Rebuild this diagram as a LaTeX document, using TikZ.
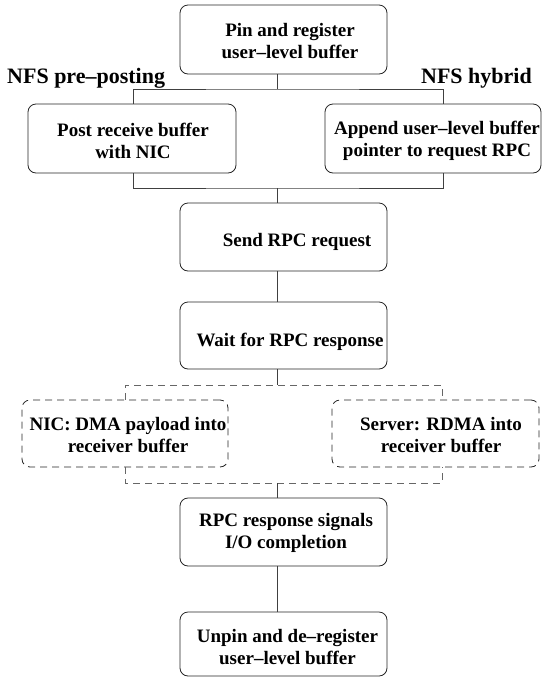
\documentclass[tikz,border=0pt]{standalone}
\usepackage{fontspec}
\setmainfont{Liberation Serif}
\begin{document}
\begin{tikzpicture}[x=1pt,y=-1pt,
  box/.style={draw=black!85,line width=0.8pt,rounded corners=8pt,rectangle,inner sep=0pt},
  dbox/.style={box,dash pattern=on 7pt off 5pt},
  txt/.style={align=center,inner sep=0pt,font=\fontsize{19}{22}\selectfont\bfseries},
  lab/.style={inner sep=0pt,font=\fontsize{22}{24}\selectfont\bfseries},
  conn/.style={draw=black!75,line width=0.8pt},
  dconn/.style={draw=black!60,line width=0.8pt,dash pattern=on 7pt off 5pt}]
\useasboundingbox (0,0) rectangle (543,678);
% boxes
\node[box,minimum width=207pt,minimum height=69pt] (top) at (283.5,39.5) {};
\node[box,minimum width=208pt,minimum height=69pt] (left) at (132,138.5) {};
\node[box,minimum width=216pt,minimum height=69pt] (right) at (433,138.5) {};
\node[box,minimum width=207pt,minimum height=68pt] (send) at (283.5,237) {};
\node[box,minimum width=207pt,minimum height=67pt] (wait) at (283.5,335.5) {};
\node[dbox,minimum width=206pt,minimum height=67pt] (dleft) at (125,433.5) {};
\node[dbox,minimum width=207pt,minimum height=67pt] (dright) at (435.5,433.5) {};
\node[box,minimum width=207pt,minimum height=68pt] (resp) at (283.5,532) {};
\node[box,minimum width=207pt,minimum height=64pt] (unpin) at (283.5,644) {};
% texts
\node[txt] (ttop) at (290,41) {Pin and register\\user–level buffer};
\node[txt] (tleft) at (133,140.5) {Post receive buffer\\with NIC};
\node[txt] (tright) at (437,140.5) {Append user–level buffer\\pointer to request RPC};
\node[txt] (tsend) at (297,242) {Send RPC request};
\node[txt] (twait) at (290,342) {Wait for RPC response};
\node[txt] (tdleft) at (128,435) {NIC: DMA payload into\\receiver buffer};
\node[txt] (tdright) at (441,435) {Server: RDMA into\\receiver buffer};
\node[txt] (tresp) at (286,532.5) {RPC response signals\\I/O completion};
\node[txt] (tunpin) at (287.5,647.5) {Unpin and de–register\\user–level buffer};
\node[lab,anchor=base west] (lpre) at (7,83) {NFS pre–posting};
\node[lab,anchor=base east] (lhyb) at (532,83) {NFS hybrid};
% junctions
\coordinate (j1) at (277,89);
\coordinate (j2) at (277,188);
\coordinate (j3) at (277,385);
\coordinate (j4) at (277,483);
\coordinate (lx) at (133,0);
\coordinate (rx) at (443,0);
\coordinate (dlx) at (125,0);
\coordinate (drx) at (442,0);
% connectors
\draw[conn] (top.south -| j1) -- (j1);
\draw[conn] (left.north -| lx) |- (j1) -| (right.north -| rx);
\draw[conn] (left.south -| lx) |- (j2) -| (right.south -| rx);
\draw[conn] (j2) -- (send.north -| j2);
\draw[conn] (send.south -| j2) -- (wait.north -| j2);
\draw[conn] (wait.south -| j3) -- (j3);
\draw[dconn] (dleft.north -| dlx) |- (j3) -| (dright.north -| drx);
\draw[dconn] (dleft.south -| dlx) |- (j4) -| (dright.south -| drx);
\draw[conn] (j4) -- (resp.north -| j4);
\draw[conn] (resp.south -| j4) -- (unpin.north -| j4);
\end{tikzpicture}
\end{document}
